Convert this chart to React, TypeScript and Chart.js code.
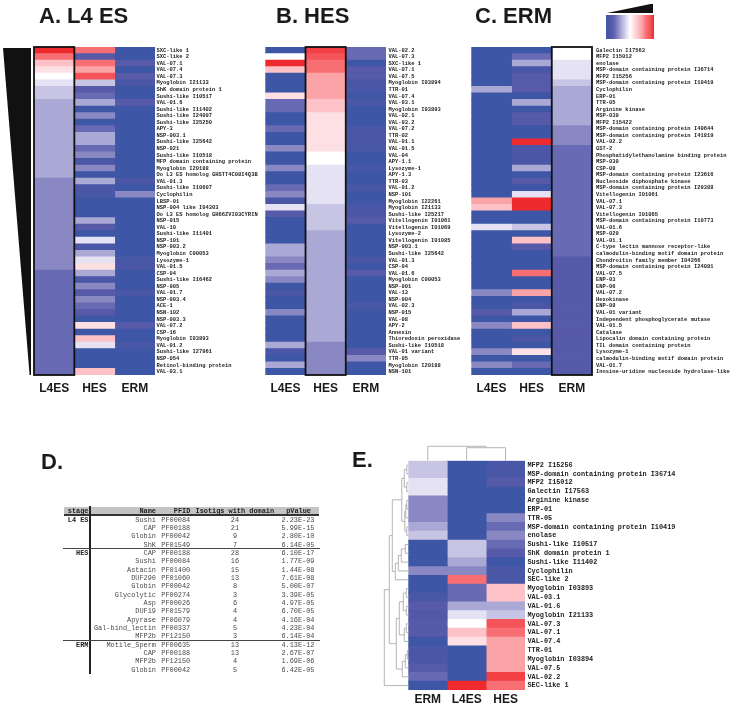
import React, { useEffect, useRef } from "react";
import { Chart, registerables } from "chart.js";

Chart.register(...registerables);

const PALETTE = ["#3d56a6","#4a56a6","#5759a9","#686bb4","#8a88c3","#aaa8d5","#c8c5e4","#e4e2f3","#ffffff","#fde0e4","#fcc2c7","#faa4a8","#f86f73","#f5555a","#ee2a2f"];

const A_LABELS = ["SXC-like 1","SXC-like 2","VAL-07.1","VAL-07.4","VAL-07.3","Myoglobin I21133","ShK domain protein 1","Sushi-like I10517","VAL-01.6","Sushi-like I11402","Sushi-like I24007","Sushi-like I25250","APY-3","NSP-003.1","Sushi-like I25642","NSP-021","Sushi-like I10518","MFP domain containing protein","Myoglobin I20188","Oo L3 ES homolog GHSTT4C08I4Q3B","VAL-01.3","Sushi-like I10607","Cyclophilin","LBSP-01","NSP-004 like I04303","Oo L3 ES homolog GH66ZVI03CYRIN","NSP-015","VAL-10","Sushi-like I11401","NSP-101","NSP-003.2","Myoglobin C00053","Lysozyme-1","VAL-01.5","CSP-04","Sushi-like I16462","NSP-005","VAL-01.7","NSP-003.4","ACE-1","NSN-102","NSP-003.3","VAL-07.2","CSP-16","Myoglobin I03893","VAL-01.2","Sushi-like I27961","NSP-054","Retinol-binding protein","VAL-03.1"];
const A_L4ES = [14,12,10,9,8,7,6,6,5,5, 5,5,5,5,5,5,5,5,5,5, 4,4,4,4,4,4,4,4,4,4, 4,4,4,4,3,3,3,3,3,3, 3,3,3,3,3,3,3,3,3,3];
const A_HES = [12,2,12,11,13,6,2,3,5,0, 4,0,3,5,5,3,4,1,4,0, 5,1,1,0,0,0,5,2,0,7, 1,5,7,9,5,1,4,2,4,3, 2,0,9,0,10,7,0,0,0,10];
const A_ERM = [0,0,2,0,2,1,0,0,2,0, 0,0,0,0,0,0,0,0,0,0, 1,0,4,0,0,0,0,0,0,0, 0,0,1,1,0,0,0,1,0,0, 0,0,2,0,0,1,0,0,0,0];

const B_LABELS = ["VAL-02.2","VAL-07.3","SXC-like 1","VAL-07.1","VAL-07.5","Myoglobin I03894","TTR-01","VAL-07.4","VAL-03.1","Myoglobin I03893","VAL-02.1","VAL-03.2","VAL-07.2","TTR-02","VAL-01.1","VAL-01.5","VAL-04","APY-1.1","Lysozyme-1","APY-1.3","TTR-03","VAL-01.2","NSP-101","Myoglobin I22261","Myoglobin I21133","Sushi-like I25217","Vitellogenin I01061","Vitellogenin I01069","Lysozyme-2","Vitellogenin I01085","NSP-003.1","Sushi-like I25642","VAL-01.3","CSP-04","VAL-01.6","Myoglobin C00053","NSP-001","VAL-13","NSP-004","VAL-02.3","NSP-015","VAL-08","APY-2","Annexin","Thioredoxin peroxidase","Sushi-like I10518","VAL-01 variant","TTR-05","Myoglobin I20188","NSN-101"];
const B_L4ES = [0,8,14,10,0,0,0,9,3,3, 0,0,3,0,0,4,0,0,4,0, 0,3,4,1,7,2,0,0,0,0, 5,5,4,3,5,4,0,1,0,0, 4,0,0,0,0,5,1,0,5,0];
const B_HES = [13.5,13,12,12,11,11,11,11,10,10, 9,9,9,9,9,9,8,8,7,7, 7,7,7,7,6,6,6,6,5,5, 5,5,5,5,5,5,5,5,5,5, 5,5,5,5,5,4,4,4,4,4];
const B_ERM = [3,3,0,2,2,1,1,0,1,0, 0,0,1,1,1,1,0,0,1,0, 0,1,0,0,1,1,2,0,0,0, 0,0,1,0,2,0,0,0,0,1, 0,0,0,0,0,0,2,4,0,0];

const C_LABELS = ["Galectin I17563","MFP2 I15012","enolase","MSP-domain containing protein I36714","MFP2 I15256","MSP-domain containing protein I10419","Cyclophilin","ERP-01","TTR-05","Arginine kinase","MSP-039","MFP2 I15422","MSP-domain containing protein I40644","MSP-domain containing protein I41819","VAL-02.2","GST-2","Phosphatidylethanolamine binding protein","MSP-030","CSP-08","MSP-domain containing protein I23616","Nucleoside diphosphate kinase","MSP-domain containing protein I29388","Vitellogenin I01061","VAL-07.1","VAL-07.3","Vitellogenin I01065","MSP-domain containing protein I19773","VAL-01.6","MSP-029","VAL-01.1","C-type lectin mannose receptor-like","calmodulin-binding motif domain protein","Chondroitin family member I04266","MSP-domain containing protein I24081","VAL-07.5","ENP-03","ENP-06","VAL-07.2","Hexokinase","ENP-08","VAL-01 variant","Independent phosphoglycerate mutase","VAL-01.5","Catalase","Lipocalin domain containing protein","TIL domain containing protein","Lysozyme-1","calmodulin-binding motif domain protein","VAL-01.7","Inosine-uridine nucleoside hydrolase-like"];
const C_L4ES = [0,0,0,0,0,0,5,0,0,0, 0,0,0,0,0,0,0,0,0,0, 0,0,0,11,10,0,0,7,0,0, 0,0,0,0,0,0,0,4,0,0, 2,0,4,0,0,0,4,0,4,0];
const C_HES = [0,3,5,1,2,2,2,0,5,0, 2,2,0,0,14,1,1,1,5,0, 2,0,7,14,14,0,0,6,0,10, 2,0,0,0,12,0,0,11,0,1, 5,0,10,0,1,0,9,0,3,0];
const C_ERM = [8,8,7,7,7,6,5,5,5,5, 5,5,4,4,4,3,3,3,3,3, 3,3,3,3,3,3,3,3,3,3, 3,3,2,2,2,2,2,2,2,2, 2,2,2,2,2,2,2,2,2,2];

const E_LABELS = ["MFP2 I15256","MSP-domain containing protein I36714","MFP2 I15012","Galectin I17563","Arginine kinase","ERP-01","TTR-05","MSP-domain containing protein I10419","enolase","Sushi-like I10517","ShK domain protein 1","Sushi-like I11402","Cyclophilin","SEC-like 2","Myoglobin I03893","VAL-03.1","VAL-01.6","Myoglobin I21133","VAL-07.3","VAL-07.1","VAL-07.4","TTR-01","Myoglobin I03894","VAL-07.5","VAL-02.2","SEC-like 1"];
const E_ERM = [6,6,7,7,4,4,4,5,6,0, 0,0,4,0,0,1,2,1.5,2,2, 0,1,1,2,3,0];
const E_L4ES = [0,0,0,0,0,0,0,0,0,6, 6,5,4,12,3,3,5,7,8,10, 9,0,0,0,0,14];
const E_HES = [1,1,2,0,0,0,4,3,4,3, 2,0,1,1,10,10,5,6,13,12, 11,11,11,11,13.5,12];

type Tree = number | { d: number; kids: [Tree, Tree] };
const n = (d: number, a: Tree, b: Tree): Tree => ({ d, kids: [a, b] });
const E_ROW_TREE: Tree = n(24,
  n(19,
    n(16,
      n(6.5, n(4, n(1.5, 0, 1), n(1.5, 2, 3)), n(3.5, n(2.5, n(1.5, 4, 5), 6), n(1.5, 7, 8))),
      n(13, n(10, n(7, n(3, 9, 10), 11), 12), 13)
    ),
    n(12,
      n(9, n(5, n(2, 14, 15), n(2, 16, 17)), n(4, n(2, 18, 19), 20)),
      n(6, n(3, n(1, 21, 22), 23), 24)
    )
  ),
  25
);
const E_COL_TREE: Tree = n(14.4, 0, n(13, 1, 2));

const D_STAGE = ["L4 ES","","","","HES","","","","","","","","","","","ERM","","",""];
const D_NAME = ["Sushi","CAP","Globin","ShK","CAP","Sushi","Astacin","DUF290","Globin","Glycolytic","Asp","DUF19","Apyrase","Gal-bind_lectin","MFP2b","Motile_Sperm","CAP","MFP2b","Globin"];
const D_PFID = ["PF00084","PF00188","PF00042","PF01549","PF00188","PF00084","PF01400","PF01060","PF00042","PF00274","PF00026","PF01579","PF06079","PF00337","PF12150","PF00635","PF00188","PF12150","PF00042"];
const D_COUNT = [24,21,9,7,28,16,15,13,8,3,6,4,4,5,3,13,13,4,5];
const D_PVALUE = ["2.23E-23","5.99E-15","2.80E-10","6.14E-05","6.10E-17","1.77E-09","1.44E-08","7.61E-08","5.00E-07","3.39E-05","4.97E-05","6.70E-05","4.16E-04","4.23E-04","6.14E-04","4.13E-12","2.67E-07","1.69E-06","6.42E-05"];

function colorOf(v: number): string {
  const i = Math.max(0, Math.min(PALETTE.length - 1, Math.floor(v)));
  const j = Math.min(PALETTE.length - 1, i + 1);
  const f = v - i;
  const h = (s: string, k: number) => parseInt(s.slice(1 + 2 * k, 3 + 2 * k), 16);
  const c = [0, 1, 2].map((k) => Math.round(h(PALETTE[i], k) * (1 - f) + h(PALETTE[j], k) * f));
  return `rgb(${c[0]},${c[1]},${c[2]})`;
}

type Series = { name: string; values: number[] };
type HeatProps = {
  left: number; top: number; width: number; height: number;
  labelWidth: number; labels: string[]; series: Series[];
  fontSize: number; labelPad: number; colPad: number;
  boxed?: number; padLeft?: number; padTop?: number;
  rowTree?: Tree; colTree?: Tree;
};

function treeLines(ctx: CanvasRenderingContext2D, t: Tree, leafPos: (i: number) => number, dPos: (d: number) => number, horizontal: boolean): { pos: number; at: number } {
  if (typeof t === "number") return { pos: leafPos(t), at: dPos(0) };
  const a = treeLines(ctx, t.kids[0], leafPos, dPos, horizontal);
  const b = treeLines(ctx, t.kids[1], leafPos, dPos, horizontal);
  const at = dPos(t.d);
  ctx.beginPath();
  if (horizontal) {
    ctx.moveTo(a.at, a.pos); ctx.lineTo(at, a.pos); ctx.lineTo(at, b.pos); ctx.lineTo(b.at, b.pos);
  } else {
    ctx.moveTo(a.pos, a.at); ctx.lineTo(a.pos, at); ctx.lineTo(b.pos, at); ctx.lineTo(b.pos, b.at);
  }
  ctx.stroke();
  return { pos: (a.pos + b.pos) / 2, at };
}

function Heat(p: HeatProps) {
  const ref = useRef<HTMLCanvasElement>(null);
  const padLeft = p.padLeft ?? 3;
  const padTop = p.padTop ?? 9;
  const cLeft = Math.floor(p.left) - padLeft;
  const cTop = Math.floor(p.top) - padTop;
  const extraL = p.left - Math.floor(p.left);
  const extraT = p.top - Math.floor(p.top);
  const cw = Math.ceil(padLeft + extraL + p.width + p.labelWidth);
  const ch = Math.ceil(padTop + extraT + p.height + 24);
  useEffect(() => {
    const decor = {
      id: "decor",
      afterDatasetsDraw(chart: any) {
        const { ctx, chartArea: a, scales } = chart;
        ctx.save();
        if (p.boxed !== undefined) {
          const x0 = scales.x.getPixelForValue(p.boxed);
          const x1 = scales.x.getPixelForValue(p.boxed + 1);
          ctx.strokeStyle = "#111";
          ctx.lineWidth = 1.8;
          ctx.strokeRect(x0, a.top, x1 - x0, a.bottom - a.top);
        }
        ctx.strokeStyle = "#adadad";
        ctx.lineWidth = 0.9;
        if (p.rowTree !== undefined) {
          treeLines(ctx, p.rowTree, (i) => scales.y.getPixelForValue(i), (d) => a.left - d, true);
        }
        if (p.colTree !== undefined) {
          treeLines(ctx, p.colTree, (i) => scales.x.getPixelForValue(i + 0.5), (d) => a.top - d, false);
        }
        ctx.restore();
      },
    };
    const chart = new Chart(ref.current!, {
      type: "bar",
      data: {
        labels: p.labels,
        datasets: p.series.map((s, c) => ({
          label: s.name,
          data: s.values.map((v, r) => ({ x: [c, c + 1], y: p.labels[r], v })),
          backgroundColor: (ctx: any) => colorOf(ctx.raw ? ctx.raw.v : 0),
          borderWidth: 0,
          inflateAmount: 0.4,
          barPercentage: 1,
          categoryPercentage: 1,
          grouped: false,
        })) as any,
      },
      options: {
        indexAxis: "y",
        animation: false,
        responsive: false,
        layout: { padding: { left: padLeft + extraL, top: padTop + extraT, right: 0, bottom: 0 } },
        plugins: { legend: { display: false }, tooltip: { enabled: false } },
        scales: {
          x: {
            type: "linear", min: 0, max: p.series.length,
            grid: { display: false, drawTicks: false }, border: { display: false },
            afterBuildTicks: (s: any) => { s.ticks = p.series.map((_, i) => ({ value: i + 0.5 })); },
            afterFit: (s: any) => { s.height = 24; },
            ticks: {
              autoSkip: false, maxRotation: 0, padding: p.colPad, color: "#1a1a1a",
              font: { family: '"Liberation Sans"', size: 12, weight: "bold" },
              callback: (v: any) => p.series[Math.floor(Number(v))]?.name ?? "",
            },
          },
          y: {
            position: "right",
            grid: { display: false, drawTicks: false }, border: { display: false },
            afterFit: (s: any) => { s.width = p.labelWidth; },
            ticks: {
              autoSkip: false, padding: p.labelPad, color: "#222", crossAlign: "near",
              font: { family: '"Liberation Mono"', size: p.fontSize, weight: "bold" },
            },
          },
        },
      } as any,
      plugins: [decor],
    });
    return () => chart.destroy();
  }, []);
  return <canvas ref={ref} width={cw} height={ch} style={{ position: "absolute", left: cLeft, top: cTop, width: cw, height: ch }} />;
}

const Title = ({ x, y, text }: { x: number; y: number; text: string }) => (
  <div style={{ position: "absolute", left: x, top: y, font: 'bold 22px/26px "Liberation Sans"', color: "#1a1a1a", whiteSpace: "nowrap" }}>{text}</div>
);

const mono = '"Liberation Mono"';
function Table() {
  const rowTop = (i: number) => 515.6 + i * 8.33;
  const cell = (text: string | number, style: React.CSSProperties, top: number, bold = false) => (
    <div style={{ position: "absolute", top, height: 8.3, font: `${bold ? "bold " : ""}6.9px/8.3px ${mono}`, color: bold ? "#222" : "#4a4a4a", whiteSpace: "pre", ...style }}>{text}</div>
  );
  return (
    <div style={{ position: "absolute", left: 0, top: 0, width: 733, height: 707, willChange: "transform", pointerEvents: "none" }}>
      <div style={{ position: "absolute", left: 64, top: 506.7, width: 255, height: 8, background: "#c4c4c4" }} />
      <div style={{ position: "absolute", left: 64, top: 514.4, width: 255, height: 2, background: "#333" }} />
      <div style={{ position: "absolute", left: 89.3, top: 505.7, width: 1.4, height: 168, background: "#222" }} />
      <div style={{ position: "absolute", left: 63, top: 548, width: 257, height: 1, background: "#444" }} />
      <div style={{ position: "absolute", left: 63, top: 640, width: 257, height: 1, background: "#444" }} />
      {cell("stage", { right: 733 - 88.5 }, 506.6, true)}
      {cell("Name", { right: 733 - 156 }, 506.6, true)}
      {cell("PFID", { right: 733 - 190.3 }, 506.6, true)}
      {cell("Isotigs with domain", { left: 195.5 }, 506.6, true)}
      {cell("pValue", { right: 733 - 311 }, 506.6, true)}
      {D_NAME.map((name, i) => (
        <React.Fragment key={i}>
          {cell(D_STAGE[i], { right: 733 - 88.5 }, rowTop(i), true)}
          {cell(name, { right: 733 - 156 }, rowTop(i))}
          {cell(D_PFID[i], { left: 161.3 }, rowTop(i))}
          {cell(D_COUNT[i], { left: 215, width: 40, textAlign: "center" }, rowTop(i))}
          {cell(D_PVALUE[i], { right: 733 - 314.5 }, rowTop(i))}
        </React.Fragment>
      ))}
    </div>
  );
}

export default function App() {
  const n0 = PALETTE.length - 1;
  const stops = PALETTE.map((c, i) => `${c} ${i <= 8 ? (i / 8) * 50 : 50 + ((i - 8) / (n0 - 8)) * 50}%`).join(",");
  return (
    <div style={{ position: "absolute", left: 0, top: 0, width: 733, height: 707, background: "#fff", overflow: "hidden" }}>
      <div style={{ position: "absolute", left: 0, top: 0, width: 733, height: 707, willChange: "transform", pointerEvents: "none" }}>
        <Title x={39} y={3} text="A. L4 ES" />
        <Title x={276} y={3} text="B. HES" />
        <Title x={475} y={3} text="C. ERM" />
        <Title x={41} y={449} text="D." />
        <Title x={352} y={447} text="E." />
      </div>
      <div style={{ position: "absolute", left: 3, top: 48, width: 28, height: 327, background: "#111", clipPath: "polygon(0 0, 100% 0, 100% 100%, 95% 100%)" }} />
      <div style={{ position: "absolute", left: 607, top: 3.5, width: 46, height: 9.5, background: "#111", clipPath: "polygon(0 100%, 100% 0, 100% 100%)" }} />
      <div style={{ position: "absolute", left: 606, top: 15, width: 48, height: 24, background: `linear-gradient(to right, ${stops})` }} />

      <Heat left={34} top={47} width={121} height={328} labelWidth={115} labels={A_LABELS} fontSize={5.45} labelPad={1.5} colPad={6.5} boxed={0}
        series={[{ name: "L4ES", values: A_L4ES }, { name: "HES", values: A_HES }, { name: "ERM", values: A_ERM }]} />
      <Heat left={265.3} top={47} width={120.5} height={328} labelWidth={90} labels={B_LABELS} fontSize={5.45} labelPad={2.5} colPad={6.5} boxed={1}
        series={[{ name: "L4ES", values: B_L4ES }, { name: "HES", values: B_HES }, { name: "ERM", values: B_ERM }]} />
      <Heat left={471.3} top={47} width={120.5} height={328} labelWidth={141} labels={C_LABELS} fontSize={5.45} labelPad={4} colPad={6.5} boxed={2}
        series={[{ name: "L4ES", values: C_L4ES }, { name: "HES", values: C_HES }, { name: "ERM", values: C_ERM }]} />
      <Heat left={408.3} top={460.7} width={116.4} height={229} labelWidth={170} labels={E_LABELS} fontSize={6.85} labelPad={2.5} colPad={2.5} padLeft={28} padTop={18}
        rowTree={E_ROW_TREE} colTree={E_COL_TREE}
        series={[{ name: "ERM", values: E_ERM }, { name: "L4ES", values: E_L4ES }, { name: "HES", values: E_HES }]} />
      <Table />
    </div>
  );
}
